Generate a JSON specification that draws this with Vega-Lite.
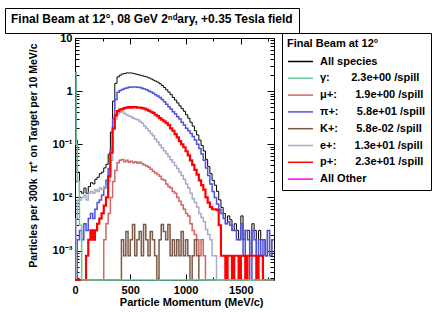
{
"$schema": "https://vega.github.io/schema/vega-lite/v6.json",
"width": 199, "height": 242,
"autosize": "none",
"padding": {"left": 75, "top": 38, "right": 160, "bottom": 32},
"background": "white",
"config": {
  "view": {"stroke": "black", "strokeWidth": 1},
  "axis": {"domain": false, "grid": false, "labelFont": "Liberation Sans", "labelFontWeight": "bold", "labelFontSize": 11, "labelColor": "black", "tickColor": "black", "labelFlush": false, "labelOverlap": false, "titleFont": "Liberation Sans", "titleFontWeight": "bold", "titleColor": "black"},
  "legend": {"orient": "none", "strokeColor": "black", "fillColor": "white", "padding": 5, "titleFont": "Liberation Sans", "titleFontWeight": "bold", "titleColor": "black", "labelFont": "Liberation Sans", "labelFontWeight": "bold", "labelColor": "black", "labelLimit": 300, "titleLimit": 400}
},
"data": {"values": [
{"x":0,"A":2.3,"g":2.2,"m":0,"pi":0,"K":0,"e":0,"p":0},
{"x":10,"A":0.12,"g":0.1,"m":0,"pi":0,"K":0,"e":0.004,"p":0},
{"x":20,"A":0.03,"g":0.02,"m":0,"pi":0.0016,"K":0,"e":0.009,"p":0},
{"x":40,"A":0.013,"g":0.003,"m":0,"pi":0.0024,"K":0,"e":0.009,"p":0},
{"x":60,"A":0.012,"g":0,"m":0,"pi":0.0016,"K":0,"e":0.01,"p":0},
{"x":80,"A":0.015,"g":0,"m":0,"pi":0.0032,"K":0,"e":0.011,"p":0},
{"x":100,"A":0.012,"g":0,"m":0,"pi":0.0024,"K":0,"e":0.009,"p":0.0008},
{"x":120,"A":0.016,"g":0,"m":0,"pi":0.004,"K":0,"e":0.012,"p":0.0016},
{"x":140,"A":0.019,"g":0,"m":0,"pi":0.005,"K":0,"e":0.013,"p":0.0024},
{"x":160,"A":0.018,"g":0,"m":0,"pi":0.004,"K":0,"e":0.012,"p":0.0016},
{"x":180,"A":0.022,"g":0,"m":0,"pi":0.006,"K":0,"e":0.014,"p":0.0024},
{"x":200,"A":0.024,"g":0,"m":0,"pi":0.008,"K":0,"e":0.013,"p":0.0032},
{"x":220,"A":0.028,"g":0,"m":0,"pi":0.009,"K":0,"e":0.015,"p":0.004},
{"x":240,"A":0.03,"g":0,"m":0,"pi":0.011,"K":0,"e":0.014,"p":0.005},
{"x":260,"A":0.036,"g":0,"m":0.0016,"pi":0.015,"K":0,"e":0.016,"p":0.007},
{"x":280,"A":0.042,"g":0,"m":0.0032,"pi":0.021,"K":0,"e":0.015,"p":0.01},
{"x":300,"A":0.065,"g":0,"m":0.005,"pi":0.035,"K":0,"e":0.02,"p":0.025},
{"x":320,"A":0.17,"g":0,"m":0.01,"pi":0.08,"K":0,"e":0.05,"p":0.07},
{"x":340,"A":0.65,"g":0,"m":0.02,"pi":0.3,"K":0,"e":0.19,"p":0.2},
{"x":360,"A":1.4,"g":0,"m":0.032,"pi":0.7,"K":0,"e":0.3,"p":0.35},
{"x":380,"A":1.85,"g":0,"m":0.045,"pi":0.95,"K":0,"e":0.37,"p":0.42},
{"x":400,"A":2.0,"g":0,"m":0.05,"pi":1.03,"K":0,"e":0.4,"p":0.45},
{"x":420,"A":2.1,"g":0,"m":0.052,"pi":1.08,"K":0.0016,"e":0.41,"p":0.46},
{"x":440,"A":2.15,"g":0,"m":0.047,"pi":1.12,"K":0.0008,"e":0.38,"p":0.48},
{"x":460,"A":2.2,"g":0,"m":0.05,"pi":1.15,"K":0.0023,"e":0.36,"p":0.49},
{"x":480,"A":2.2,"g":0,"m":0.046,"pi":1.18,"K":0.0008,"e":0.34,"p":0.5},
{"x":500,"A":2.2,"g":0,"m":0.048,"pi":1.2,"K":0.0016,"e":0.33,"p":0.49},
{"x":520,"A":2.15,"g":0,"m":0.045,"pi":1.2,"K":0.0031,"e":0.31,"p":0.5},
{"x":540,"A":2.1,"g":0,"m":0.047,"pi":1.2,"K":0.0008,"e":0.3,"p":0.5},
{"x":560,"A":2.05,"g":0,"m":0.044,"pi":1.19,"K":0.0016,"e":0.29,"p":0.49},
{"x":580,"A":2.0,"g":0,"m":0.046,"pi":1.17,"K":0.0023,"e":0.27,"p":0.49},
{"x":600,"A":1.95,"g":0,"m":0.043,"pi":1.14,"K":0.0008,"e":0.25,"p":0.48},
{"x":620,"A":1.9,"g":0,"m":0.041,"pi":1.1,"K":0.0031,"e":0.22,"p":0.47},
{"x":640,"A":1.85,"g":0,"m":0.039,"pi":1.06,"K":0.0016,"e":0.2,"p":0.45},
{"x":660,"A":1.78,"g":0,"m":0.037,"pi":1.01,"K":0.0008,"e":0.18,"p":0.43},
{"x":680,"A":1.7,"g":0,"m":0.034,"pi":0.96,"K":0.0023,"e":0.16,"p":0.41},
{"x":700,"A":1.62,"g":0,"m":0.031,"pi":0.91,"K":0.0016,"e":0.145,"p":0.39},
{"x":720,"A":1.55,"g":0,"m":0.029,"pi":0.86,"K":0.0008,"e":0.125,"p":0.36},
{"x":740,"A":1.48,"g":0,"m":0.027,"pi":0.81,"K":0,"e":0.11,"p":0.34},
{"x":760,"A":1.38,"g":0,"m":0.025,"pi":0.76,"K":0.0016,"e":0.097,"p":0.31},
{"x":780,"A":1.28,"g":0,"m":0.022,"pi":0.7,"K":0.0031,"e":0.086,"p":0.29},
{"x":800,"A":1.17,"g":0,"m":0.021,"pi":0.63,"K":0.0023,"e":0.076,"p":0.27},
{"x":820,"A":1.06,"g":0,"m":0.018,"pi":0.57,"K":0.0016,"e":0.067,"p":0.25},
{"x":840,"A":0.96,"g":0,"m":0.016,"pi":0.51,"K":0.0031,"e":0.059,"p":0.23},
{"x":860,"A":0.86,"g":0,"m":0.015,"pi":0.46,"K":0.0008,"e":0.051,"p":0.2},
{"x":880,"A":0.76,"g":0,"m":0.013,"pi":0.41,"K":0.0016,"e":0.046,"p":0.18},
{"x":900,"A":0.68,"g":0,"m":0.012,"pi":0.37,"K":0.0008,"e":0.04,"p":0.155},
{"x":920,"A":0.6,"g":0,"m":0.01,"pi":0.33,"K":0.0016,"e":0.035,"p":0.135},
{"x":940,"A":0.53,"g":0,"m":0.0085,"pi":0.3,"K":0.0008,"e":0.03,"p":0.115},
{"x":960,"A":0.47,"g":0,"m":0.0072,"pi":0.26,"K":0.0023,"e":0.026,"p":0.1},
{"x":980,"A":0.42,"g":0,"m":0.006,"pi":0.23,"K":0.0008,"e":0.022,"p":0.088},
{"x":1000,"A":0.36,"g":0,"m":0.005,"pi":0.2,"K":0.0016,"e":0.018,"p":0.074},
{"x":1020,"A":0.31,"g":0,"m":0.0045,"pi":0.18,"K":0.0008,"e":0.015,"p":0.062},
{"x":1040,"A":0.26,"g":0,"m":0.0032,"pi":0.16,"K":0,"e":0.012,"p":0.05},
{"x":1060,"A":0.22,"g":0,"m":0.0024,"pi":0.14,"K":0.0008,"e":0.0095,"p":0.041},
{"x":1080,"A":0.18,"g":0,"m":0.002,"pi":0.12,"K":0.0016,"e":0.008,"p":0.033},
{"x":1100,"A":0.15,"g":0,"m":0.0016,"pi":0.1,"K":0.0008,"e":0.0066,"p":0.027},
{"x":1120,"A":0.12,"g":0,"m":0.0008,"pi":0.083,"K":0,"e":0.005,"p":0.021},
{"x":1140,"A":0.095,"g":0,"m":0.0016,"pi":0.066,"K":0,"e":0.0042,"p":0.017},
{"x":1160,"A":0.075,"g":0,"m":0.0008,"pi":0.05,"K":0,"e":0.0035,"p":0.014},
{"x":1180,"A":0.052,"g":0,"m":0,"pi":0.036,"K":0,"e":0.0025,"p":0.01},
{"x":1200,"A":0.038,"g":0,"m":0,"pi":0.026,"K":0,"e":0.002,"p":0.008},
{"x":1220,"A":0.028,"g":0,"m":0,"pi":0.018,"K":0,"e":0.0016,"p":0.0066},
{"x":1240,"A":0.021,"g":0,"m":0,"pi":0.013,"K":0,"e":0.0008,"p":0.006},
{"x":1260,"A":0.017,"g":0,"m":0,"pi":0.01,"K":0,"e":0.0008,"p":0.006},
{"x":1280,"A":0.013,"g":0,"m":0,"pi":0.0075,"K":0,"e":0,"p":0.0058},
{"x":1300,"A":0.009,"g":0,"m":0,"pi":0.006,"K":0,"e":0,"p":0.003},
{"x":1320,"A":0.0065,"g":0,"m":0,"pi":0.005,"K":0,"e":0,"p":0.0008},
{"x":1340,"A":0.005,"g":0,"m":0,"pi":0.004,"K":0,"e":0,"p":0.0008},
{"x":1360,"A":0.0032,"g":0,"m":0,"pi":0.0032,"K":0,"e":0,"p":0},
{"x":1380,"A":0.0045,"g":0,"m":0,"pi":0.0035,"K":0,"e":0,"p":0.0008},
{"x":1400,"A":0.0038,"g":0,"m":0,"pi":0.003,"K":0,"e":0,"p":0.0008},
{"x":1420,"A":0.0024,"g":0,"m":0,"pi":0.0024,"K":0,"e":0,"p":0},
{"x":1440,"A":0.0032,"g":0,"m":0,"pi":0.0024,"K":0,"e":0,"p":0.0008},
{"x":1460,"A":0.0024,"g":0,"m":0,"pi":0.0016,"K":0,"e":0,"p":0.0008},
{"x":1480,"A":0.0016,"g":0,"m":0,"pi":0.0016,"K":0,"e":0,"p":0},
{"x":1500,"A":0.0045,"g":0,"m":0,"pi":0.0032,"K":0,"e":0,"p":0.0008},
{"x":1520,"A":0.0016,"g":0,"m":0,"pi":0.0008,"K":0,"e":0,"p":0.0008},
{"x":1540,"A":0.0024,"g":0,"m":0,"pi":0.0024,"K":0,"e":0,"p":0},
{"x":1560,"A":0.0024,"g":0,"m":0,"pi":0.0016,"K":0,"e":0,"p":0.0008},
{"x":1580,"A":0.0008,"g":0,"m":0,"pi":0,"K":0,"e":0,"p":0.0008},
{"x":1600,"A":0.0032,"g":0,"m":0,"pi":0.0024,"K":0,"e":0,"p":0.0008},
{"x":1620,"A":0.0024,"g":0,"m":0,"pi":0.0016,"K":0,"e":0,"p":0.0008},
{"x":1640,"A":0.0008,"g":0,"m":0,"pi":0.0008,"K":0,"e":0,"p":0},
{"x":1660,"A":0.0024,"g":0,"m":0,"pi":0.0016,"K":0,"e":0,"p":0.0008},
{"x":1680,"A":0.0016,"g":0,"m":0,"pi":0.0008,"K":0,"e":0,"p":0.0008},
{"x":1700,"A":0.0016,"g":0,"m":0,"pi":0.0016,"K":0,"e":0,"p":0},
{"x":1720,"A":0.0008,"g":0,"m":0,"pi":0.0008,"K":0,"e":0,"p":0},
{"x":1740,"A":0.0024,"g":0,"m":0,"pi":0.0024,"K":0,"e":0,"p":0},
{"x":1760,"A":0.0008,"g":0,"m":0,"pi":0.0008,"K":0,"e":0,"p":0},
{"x":1780,"A":0.0016,"g":0,"m":0,"pi":0.0016,"K":0,"e":0,"p":0},
{"x":1800,"A":0.0016,"g":0,"m":0,"pi":0.0016,"K":0,"e":0,"p":0}
]},
"transform": [{"fold": ["A","m","pi","K","e","p","g"], "as": ["s","v"]}],
"layer": [
 {"mark": {"type": "line", "interpolate": "step-after"},
  "encoding": {
   "x": {"field": "x", "type": "quantitative", "scale": {"domain": [0,1800], "nice": false, "zero": false},
     "axis": {"orient": "bottom", "values": [0,250,500,750,1000,1250,1500,1750], "format": "d", "labelExpr": "datum.value % 500 === 0 ? datum.label : ''", "tickSize": {"condition": {"test": "datum.value % 500 === 0", "value": -6}, "value": -3}, "labelPadding": 10, "title": "Particle Momentum (MeV/c)", "titleFontSize": 11, "titleAlign": "right", "titleX": 188, "titleY": 22, "titleBaseline": "middle"}},
   "y": {"field": "v", "type": "quantitative", "scale": {"type": "log", "domain": [0.00028, 10], "nice": false, "clamp": true},
     "axis": {"orient": "left", "values": [0.0003,0.0004,0.0005,0.0006,0.0007,0.0008,0.0009,0.001,0.002,0.003,0.004,0.005,0.006,0.007,0.008,0.009,0.01,0.02,0.03,0.04,0.05,0.06,0.07,0.08,0.09,0.1,0.2,0.3,0.4,0.5,0.6,0.7,0.8,0.9,1,2,3,4,5,6,7,8,9,10],
       "labelExpr": "datum.value == 10 ? '10' : datum.value == 1 ? '1' : datum.value == 0.1 ? '10⁻¹' : datum.value == 0.01 ? '10⁻²' : datum.value == 0.001 ? '10⁻³' : ''",
       "tickSize": {"condition": {"test": "indexof([10,1,0.1,0.01,0.001], datum.value) >= 0", "value": -7}, "value": -4}, "labelPadding": 10,
       "title": "Particles per 300k \u00a0π⁺ on Target per 10 MeV/c", "titleFontSize": 10.5, "titleAlign": "right", "titleAngle": -90, "titleX": -42, "titleY": 5, "titleBaseline": "middle"}},
   "color": {"field": "s", "type": "nominal",
     "scale": {"domain": ["A","g","m","pi","K","e","p","o"], "range": ["#000000","#66c898","#d06666","#5050e0","#7b5a48","#aaaacc","#ff0000","#ff00ff"]},
     "legend": {"title": "Final Beam at 12°", "legendX": 207, "legendY": -5, "titleFontSize": 11, "titlePadding": 4, "labelFontSize": 11, "labelOffset": 16, "symbolType": "M-1,0H2.33", "symbolSize": 225, "symbolStrokeWidth": 1.5, "rowPadding": 2.8,
       "labelExpr": "{'A':'All species','g':'γ:\u00a0\u00a0\u00a0\u00a0\u00a0\u00a0 2.3e+00 /spill','m':'μ+:\u00a0\u00a0\u00a0\u00a0\u00a0 1.9e+00 /spill','pi':'π+:\u00a0\u00a0\u00a0\u00a0\u00a0 5.8e+01 /spill','K':'K+:\u00a0\u00a0\u00a0\u00a0\u00a0 5.8e-02 /spill','e':'e+:\u00a0\u00a0\u00a0\u00a0\u00a0 1.3e+01 /spill','p':'p+:\u00a0\u00a0\u00a0\u00a0\u00a0 2.3e+01 /spill','o':'All Other'}[datum.label]"}},
   "strokeWidth": {"condition": [{"test": "datum.s == 'p'", "value": 2.2}, {"test": "datum.s == 'A'", "value": 1}], "value": 1.5}
  }},
 {"mark": {"type": "point", "opacity": 0, "size": 0},
  "encoding": {
   "x": {"field": "x", "type": "quantitative", "axis": {"orient": "top", "labels": false, "title": null, "values": [0,250,500,750,1000,1250,1500,1750], "tickSize": {"condition": {"test": "datum.value % 500 === 0", "value": -6}, "value": -3}}},
   "y": {"field": "v", "type": "quantitative", "axis": {"orient": "right", "labels": false, "title": null, "values": [0.0003,0.0004,0.0005,0.0006,0.0007,0.0008,0.0009,0.001,0.002,0.003,0.004,0.005,0.006,0.007,0.008,0.009,0.01,0.02,0.03,0.04,0.05,0.06,0.07,0.08,0.09,0.1,0.2,0.3,0.4,0.5,0.6,0.7,0.8,0.9,1,2,3,4,5,6,7,8,9,10], "tickSize": {"condition": {"test": "indexof([10,1,0.1,0.01,0.001], datum.value) >= 0", "value": -7}, "value": -4}}},
   "shape": {"datum": "title", "legend": {"title": "Final Beam at 12°, 08 GeV 2ⁿᵈary, +0.35 Tesla field", "legendX": -70, "legendY": -30, "padding": 6, "titleFontSize": 12, "titlePadding": 0, "symbolSize": 0, "symbolOpacity": 0, "symbolStrokeWidth": 0, "symbolType": "circle", "labelExpr": "''", "labelFontSize": 1, "labelOffset": 0, "rowPadding": 0}}
  }}
],
"resolve": {"axis": {"x": "independent", "y": "independent"}}
}
